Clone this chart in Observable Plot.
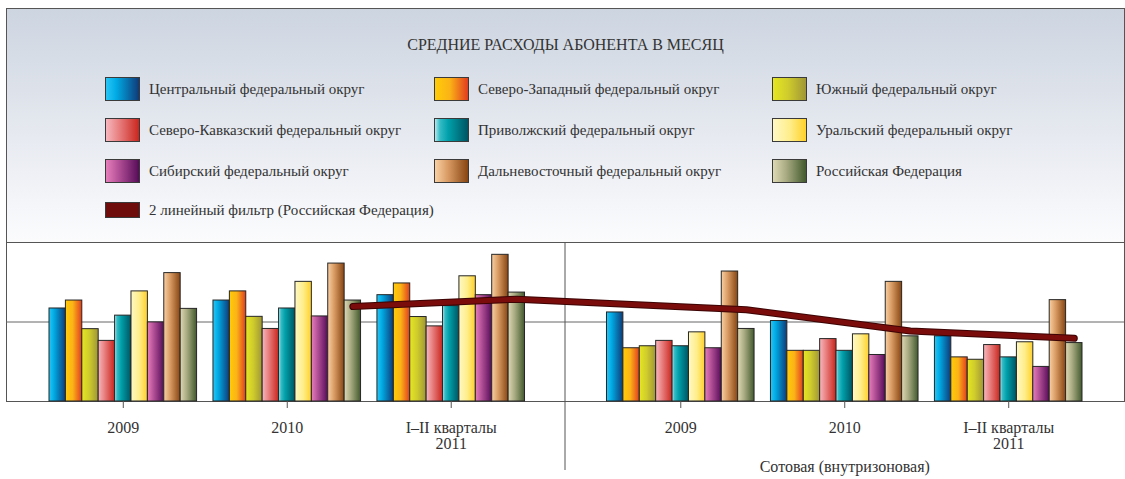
<!DOCTYPE html>
<html><head><meta charset="utf-8">
<script src="https://cdn.jsdelivr.net/npm/d3@7"></script>
<script src="https://cdn.jsdelivr.net/npm/@observablehq/plot@0.6"></script>
<style>
body{margin:0;background:#fff;font-family:"Liberation Serif",serif;color:#333}
#wrap{position:relative;width:1125px;height:479px;overflow:hidden}
#box{position:absolute;left:6px;top:8px;width:1119px;height:394px;box-sizing:border-box;border:1px solid #555}
#legend{position:absolute;left:6px;top:8px;width:1119px;height:235px;box-sizing:border-box;border:1px solid #555;
 background:linear-gradient(to bottom,#cdd5e1 0%,#dde2ea 35%,#eef0f5 70%,#f9fafc 95%,#fbfbfc 100%)}
#title{position:absolute;left:6px;width:1119px;top:36px;line-height:18px;text-align:center;font-size:16px;letter-spacing:0}
.sw{position:absolute;width:35px;height:24px;box-sizing:border-box;border:1px solid #3a3a3a}
.lt{position:absolute;font-size:15px;line-height:24px;white-space:nowrap}
#chart{position:absolute;left:0;top:230px}
#chart svg{overflow:visible}
</style></head>
<body><div id="wrap"><div id="box"></div><div id="legend"></div><div id="title">СРЕДНИЕ РАСХОДЫ АБОНЕНТА В МЕСЯЦ</div><div id="chart"></div></div>
<script>
// ---- data ----
const regions = [
  "Центральный федеральный округ",
  "Северо-Западный федеральный округ",
  "Южный федеральный округ",
  "Северо-Кавказский федеральный округ",
  "Приволжский федеральный округ",
  "Уральский федеральный округ",
  "Сибирский федеральный округ",
  "Дальневосточный федеральный округ",
  "Российская Федерация"
];
const panels = ["", "Сотовая (внутризоновая)"];
const periods = ["2009", "2010", "I–II кварталы\n2011"];
// values: left panel 2009, 2010, I–II 2011, then right panel 2009, 2010, I–II 2011
const central       = [234, 254, 267.5, 224, 202.5, 164];
const northWest     = [254, 277, 297, 134, 127.5, 111];
const south         = [182, 213, 212.5, 139, 127.5, 105];
const northCaucasus = [152.5, 182.5, 189, 152.5, 157, 142];
const volga         = [216, 234, 240, 139, 127.5, 111];
const ural          = [277, 301, 315, 174, 169, 149];
const siberia       = [199, 214, 267.5, 134, 117, 87];
const farEast       = [323, 347, 369, 327, 301, 255];
const russia        = [233, 254, 274, 182.5, 164, 147];
// 2-period moving-average trend (Российская Федерация), from the 2nd column on
const trend = [239, 257.5, 231, 177.5, 159];
const trendLabel = "2 линейный фильтр (Российская Федерация)";
const series = [central, northWest, south, northCaucasus, volga, ural, siberia, farEast, russia];

// ---- styles ----
const gradients = [
  [[0,"#2ac6f5"],[0.3,"#00ace6"],[1,"#0f3a78"]],
  [[0,"#ffcc08"],[0.45,"#fbb316"],[1,"#e23c1f"]],
  [[0,"#e6e622"],[0.45,"#cfcc2c"],[1,"#a09636"]],
  [[0,"#f6b8be"],[0.35,"#ea8586"],[1,"#c9261d"]],
  [[0,"#b4e8f0"],[0.15,"#35bcc6"],[0.4,"#00a0aa"],[1,"#005462"]],
  [[0,"#fff8c4"],[0.5,"#ffee8c"],[1,"#ffd12a"]],
  [[0,"#e77fbb"],[0.4,"#b04e95"],[1,"#560c58"]],
  [[0,"#f9d0a4"],[0.4,"#d89a62"],[1,"#874512"]],
  [[0,"#ddd8b4"],[0.4,"#a9ab82"],[1,"#425a2e"]]
];
const cssGrad = g => `linear-gradient(to right, ${g.map(([o,c]) => `${c} ${o*100}%`).join(", ")})`;

// ---- legend ----
const wrap = document.getElementById("wrap");
const colX = [105, 434, 772];
const rowY = [77, 118, 159];
regions.forEach((r, i) => {
  const sx = colX[i % 3], sy = rowY[Math.floor(i / 3)];
  const sw = document.createElement("div");
  sw.className = "sw"; sw.style.left = sx + "px"; sw.style.top = sy + "px";
  sw.style.background = cssGrad(gradients[i]);
  wrap.appendChild(sw);
  const t = document.createElement("div");
  t.className = "lt"; t.style.left = (sx + 44) + "px"; t.style.top = sy + "px";
  t.textContent = r;
  wrap.appendChild(t);
});
{
  const sw = document.createElement("div");
  sw.className = "sw"; sw.style.left = "105px"; sw.style.top = "202px"; sw.style.height = "16px";
  sw.style.background = "#6e0b0b";
  wrap.appendChild(sw);
  const t = document.createElement("div");
  t.className = "lt"; t.style.left = "149px"; t.style.top = "198px";
  t.textContent = trendLabel;
  wrap.appendChild(t);
}

// ---- chart ----
const key = (pi, i, ri) => `${pi}|${i}|${ri}`;
const domain = [];
panels.forEach((p, pi) => {
  if (pi > 0) for (let k = 0; k < 5; k++) domain.push(`mid-${k}`);
  periods.forEach((per, i) => {
    if (i > 0) domain.push(`gap-${pi}-${i}`);
    regions.forEach((r, ri) => domain.push(key(pi, i, ri)));
  });
});
const rows = [];
panels.forEach((p, pi) => periods.forEach((per, i) => regions.forEach((r, ri) => {
  rows.push({key: key(pi, i, ri), region: r, value: series[ri][pi * 3 + i]});
})));
const trendRows = trend.map((v, j) => {
  const c = j + 1;
  return {key: key(Math.floor(c / 3), c % 3, 8), value: v};
});
const tickKeys = [];
panels.forEach((p, pi) => periods.forEach((per, i) => tickKeys.push(key(pi, i, 4))));
const panelLabels = panels.map((p, pi) => ({key: key(pi, 1, 4), label: p})).filter(d => d.label);

const chart = Plot.plot({
  width: 1125, height: 249,
  marginLeft: 49, marginRight: 43, marginTop: 12, marginBottom: 78,
  style: {background: "transparent", overflow: "visible", fontFamily: "Liberation Serif", fontSize: "16px", color: "#333"},
  x: {type: "band", domain, padding: 0, round: false, axis: null},
  y: {domain: [0, 400], axis: null},
  color: {type: "ordinal", domain: regions, range: regions.map((_, i) => `url(#g${i})`)},
  marks: [
    Plot.ruleY([200], {stroke: "#666", strokeOpacity: 1, insetLeft: -43, insetRight: -42}),
    Plot.barY(rows, {x: "key", y: "value", fill: "region", stroke: "#262626", strokeWidth: 1}),
    Plot.ruleX(["mid-2"], {stroke: "#555", strokeOpacity: 1, insetBottom: -69, dx: -1}),
    Plot.axisX(tickKeys, {tickSize: 7, tickPadding: 13, label: null, tickFormat: k => periods[+k.split("|")[1]], fontSize: 16, lineHeight: 1.0, stroke: "#555", fill: "#333"}),
    Plot.text(panelLabels, {x: "key", y: 0, dy: 65, text: "label", fontSize: 16, fill: "#333"}),
    Plot.lineY(trendRows, {x: "key", y: "value", stroke: "#3c0404", strokeWidth: 7, strokeLinecap: "round", strokeLinejoin: "round"}),
    Plot.lineY(trendRows, {x: "key", y: "value", stroke: "#7a0c0c", strokeWidth: 5, strokeLinecap: "round", strokeLinejoin: "round"})
  ]
});
const defs = d3.select(chart).insert("defs", ":first-child");
gradients.forEach((g, i) => {
  const lg = defs.append("linearGradient").attr("id", `g${i}`).attr("x1", 0).attr("x2", 1).attr("y1", 0).attr("y2", 0);
  g.forEach(([o, c]) => lg.append("stop").attr("offset", o).attr("stop-color", c));
});
document.getElementById("chart").appendChild(chart);
</script></body></html>
